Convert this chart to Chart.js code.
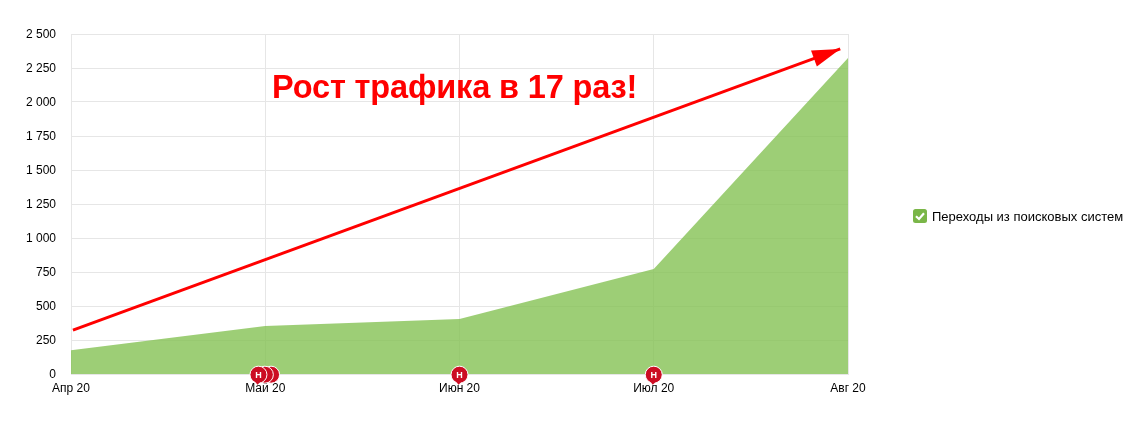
<!DOCTYPE html>
<html>
<head>
<meta charset="utf-8">
<style>
body { margin: 0; background: #fff; font-family: "Liberation Sans", Arial, sans-serif; }
#wrap { position: relative; width: 1142px; height: 424px; overflow: hidden; }
#title { position: absolute; left: 272px; top: 67px; font-size: 32.5px; font-weight: bold; color: #f00; white-space: nowrap; line-height: 40px; letter-spacing: -0.15px; }
#legend { position: absolute; left: 913px; top: 209px; font-size: 13px; color: #000; line-height: 15px; white-space: nowrap; }
#legend svg { vertical-align: top; margin-right: 5px; }
</style>
<script src="https://cdn.jsdelivr.net/npm/chart.js@4"></script>
</head>
<body>
<div id="wrap">
	<canvas id="traffic" width="1142" height="424"></canvas>
	<div id="title">Рост трафика в 17 раз!</div>
	<div id="legend"><svg width="14" height="14" viewBox="0 0 14 14"><rect width="14" height="14" rx="2.5" fill="#7ab648"/><path d="M3 7.2 L6 10 L11 4.2" fill="none" stroke="#fff" stroke-width="2.2"/></svg>Переходы из поисковых систем</div>
</div>
<script>
var months = ["Апр 20", "Май 20", "Июн 20", "Июл 20", "Авг 20"];
var visits = [175, 353, 404, 772, 2323];
var yTicks = ["0", "250", "500", "750", "1 000", "1 250", "1 500", "1 750", "2 000", "2 250", "2 500"];
var trendX = [0.01, 3.96];
var trendY = [323, 2390];
var markerX = [1.03, 0.998, 0.965, 2, 3];
var markerY = [-5, -5, -5, -5, -5];
var seriesName = "Переходы из поисковых систем";

function toPoints(xs, ys) {
	return xs.map(function(x, i) { return { x: x, y: ys[i] }; });
}

// arrow head and the letters on the markers
var overlay = {
	id: 'overlay',
	afterDatasetsDraw: function(chart) {
		var ctx = chart.ctx;
		var sx = chart.scales.x, sy = chart.scales.y;
		var tipX = sx.getPixelForValue(trendX[1]), tipY = sy.getPixelForValue(trendY[1]);
		var ang = Math.atan2(tipY - sy.getPixelForValue(trendY[0]), tipX - sx.getPixelForValue(trendX[0]));

		ctx.save();
		ctx.translate(tipX, tipY);
		ctx.rotate(ang);
		ctx.fillStyle = '#f00';
		ctx.beginPath();
		ctx.moveTo(0, 0);
		ctx.lineTo(-28, -8.5);
		ctx.lineTo(-28, 8.5);
		ctx.closePath();
		ctx.fill();
		ctx.restore();

		ctx.save();
		ctx.font = 'bold 9px "Liberation Sans"';
		ctx.textAlign = 'center';
		ctx.textBaseline = 'middle';
		[2, 3, 4].forEach(function(i) {
			var px = sx.getPixelForValue(markerX[i]), py = sy.getPixelForValue(markerY[i]);
			// small tail under the bubble
			ctx.fillStyle = '#cc0d23';
			ctx.beginPath();
			ctx.moveTo(px - 4, py + 6);
			ctx.lineTo(px + 3, py + 6);
			ctx.lineTo(px - 1, py + 10);
			ctx.closePath();
			ctx.fill();
			ctx.fillStyle = '#fff';
			ctx.fillText('Н', px, py + 0.5);
		});
		ctx.restore();
	}
};

new Chart(document.getElementById("traffic"), {
	type: 'line',
	data: {
		datasets: [
			{
				label: 'markers',
				data: toPoints(markerX, markerY),
				showLine: false,
				pointRadius: 8.5,
				pointBackgroundColor: '#cc0d23',
				pointBorderColor: '#fff',
				pointBorderWidth: 1,
				clip: false,
				order: 1
			},
			{
				label: 'trend',
				data: toPoints(trendX, trendY),
				borderColor: '#f00',
				borderWidth: 3,
				pointRadius: 0,
				order: 2
			},
			{
				label: seriesName,
				data: toPoints([0, 1, 2, 3, 4], visits),
				fill: true,
				backgroundColor: 'rgba(133,194,84,0.8)',
				borderWidth: 0,
				pointRadius: 0,
				order: 3
			}
		]
	},
	options: {
		responsive: false,
		animation: false,
		layout: { padding: { top: 34, right: 294, left: 0, bottom: 0 } },
		plugins: { legend: { display: false }, tooltip: { enabled: false } },
		scales: {
			x: {
				type: 'linear',
				min: 0,
				max: 4,
				afterFit: function(scale) { scale.height = 50; },
				afterBuildTicks: function(scale) {
					scale.ticks = months.map(function(m, i) { return { value: i }; });
				},
				border: { color: '#e6e6e6' },
				grid: { color: '#e6e6e6', drawTicks: false },
				ticks: {
					color: '#000',
					font: { family: '"Liberation Sans"', size: 12 },
					padding: 7,
					maxRotation: 0,
					callback: function(v) { return months[v]; }
				}
			},
			y: {
				min: 0,
				max: 2500,
				afterFit: function(scale) { scale.width = 71; },
				border: { color: '#e6e6e6' },
				grid: { color: '#e6e6e6', drawTicks: false },
				ticks: {
					color: '#000',
					stepSize: 250,
					labelOffset: 1,
					font: { family: '"Liberation Sans"', size: 12 },
					padding: 15,
					callback: function(v) { return yTicks[v / 250]; }
				}
			}
		}
	},
	plugins: [overlay]
});
</script>
</body>
</html>
